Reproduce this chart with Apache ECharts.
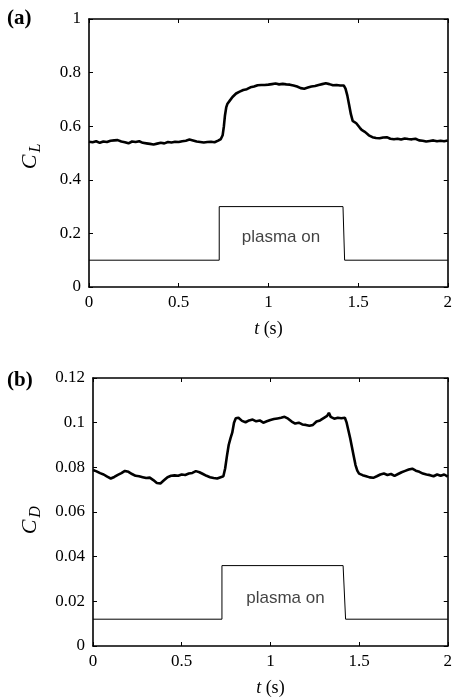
<!DOCTYPE html>
<html>
<head>
<meta charset="utf-8">
<script src="https://cdn.jsdelivr.net/npm/echarts@6/dist/echarts.min.js"></script>
<style>
html,body{margin:0;padding:0;background:#fff;}
#chart{width:455px;height:699px;}
</style>
</head>
<body>
<div id="chart"></div>
<script>
// ---- Data ----
var xTicks = [0, 0.5, 1, 1.5, 2];
var clTicks = [0, 0.2, 0.4, 0.6, 0.8, 1];
var cdTicks = [0, 0.02, 0.04, 0.06, 0.08, 0.1, 0.12];

var clTime = [0.00,0.02,0.04,0.06,0.08,0.10,0.12,0.14,0.16,0.18,0.20,0.22,0.24,0.26,0.28,0.30,0.32,0.34,0.36,0.38,0.40,0.42,0.44,0.46,0.48,0.50,0.52,0.54,0.56,0.58,0.60,0.62,0.64,0.66,0.68,0.70,0.72,0.735,0.745,0.752,0.758,0.765,0.772,0.78,0.79,0.80,0.82,0.84,0.86,0.88,0.90,0.92,0.94,0.96,0.98,1.00,1.02,1.04,1.06,1.08,1.10,1.12,1.14,1.16,1.18,1.20,1.22,1.24,1.26,1.28,1.30,1.32,1.34,1.36,1.38,1.40,1.42,1.43,1.44,1.45,1.46,1.47,1.48,1.49,1.50,1.51,1.52,1.54,1.56,1.58,1.60,1.62,1.64,1.66,1.68,1.70,1.72,1.74,1.76,1.78,1.80,1.82,1.84,1.86,1.88,1.90,1.92,1.94,1.96,1.98,2.00];
var clValue = [0.542,0.540,0.544,0.538,0.543,0.541,0.546,0.547,0.548,0.543,0.540,0.536,0.543,0.541,0.544,0.538,0.536,0.534,0.532,0.535,0.538,0.536,0.541,0.539,0.542,0.541,0.544,0.546,0.550,0.547,0.543,0.541,0.539,0.541,0.542,0.540,0.546,0.552,0.566,0.600,0.640,0.670,0.684,0.690,0.700,0.709,0.722,0.729,0.735,0.738,0.745,0.748,0.753,0.754,0.754,0.755,0.757,0.759,0.756,0.758,0.756,0.755,0.752,0.748,0.742,0.740,0.744,0.748,0.750,0.754,0.757,0.760,0.757,0.753,0.754,0.752,0.752,0.740,0.715,0.680,0.645,0.620,0.615,0.611,0.605,0.594,0.586,0.578,0.566,0.559,0.556,0.555,0.558,0.559,0.553,0.551,0.553,0.550,0.554,0.552,0.551,0.553,0.547,0.546,0.543,0.545,0.547,0.544,0.546,0.544,0.547];

var cdTime = [0.00,0.02,0.04,0.06,0.08,0.10,0.12,0.14,0.16,0.18,0.20,0.22,0.24,0.26,0.28,0.30,0.32,0.34,0.36,0.38,0.40,0.42,0.44,0.46,0.48,0.50,0.52,0.54,0.56,0.58,0.60,0.62,0.64,0.66,0.68,0.70,0.72,0.735,0.745,0.755,0.765,0.775,0.785,0.795,0.805,0.82,0.84,0.86,0.88,0.90,0.92,0.94,0.96,0.98,1.00,1.02,1.04,1.06,1.08,1.10,1.12,1.14,1.16,1.18,1.20,1.22,1.24,1.26,1.28,1.30,1.32,1.33,1.34,1.36,1.38,1.40,1.42,1.43,1.44,1.45,1.46,1.47,1.48,1.49,1.50,1.52,1.54,1.56,1.58,1.60,1.62,1.64,1.66,1.68,1.70,1.72,1.74,1.76,1.78,1.80,1.82,1.84,1.86,1.88,1.90,1.92,1.94,1.96,1.98,2.00];
var cdValue = [0.0788,0.0782,0.0774,0.0768,0.0758,0.0750,0.0757,0.0766,0.0774,0.0784,0.0780,0.0770,0.0762,0.0760,0.0756,0.0752,0.0754,0.0743,0.0730,0.0728,0.0742,0.0756,0.0762,0.0764,0.0762,0.0768,0.0766,0.0772,0.0775,0.0783,0.0778,0.0770,0.0762,0.0756,0.0752,0.0750,0.0756,0.0760,0.0795,0.0850,0.0900,0.0930,0.0955,0.1000,0.1020,0.1022,0.1008,0.1002,0.1010,0.1014,0.1006,0.1010,0.1000,0.1006,0.1012,0.1016,0.1019,0.1022,0.1026,0.1018,0.1005,0.0996,0.1000,0.0992,0.0990,0.0986,0.0990,0.1005,0.1010,0.1020,0.1030,0.1044,0.1026,0.1018,0.1022,0.1020,0.1022,0.1000,0.0965,0.0930,0.0890,0.0850,0.0810,0.0785,0.0772,0.0765,0.0760,0.0755,0.0753,0.0760,0.0768,0.0772,0.0766,0.0770,0.0762,0.0770,0.0778,0.0784,0.0790,0.0794,0.0785,0.0780,0.0772,0.0768,0.0765,0.0760,0.0768,0.0762,0.0768,0.0758];

var clPulseTime = [0, 0.726, 0.726, 1.416, 1.425, 2];
var clPulseValue = [0.1, 0.1, 0.3, 0.3, 0.1, 0.1];
var cdPulseTime = [0, 0.727, 0.727, 1.41, 1.424, 2];
var cdPulseValue = [0.012, 0.012, 0.036, 0.036, 0.012, 0.012];

var plasmaLabel = 'plasma on';
var clLabelPos = [1.07, 0.185];
var cdLabelPos = [1.085, 0.0215];

function zip(a, b) { return a.map(function (v, i) { return [v, b[i]]; }); }

var SERIF = '"Liberation Serif","Times New Roman",serif';
var SANS = '"Liberation Sans",Arial,sans-serif';

function xAx(gi, showLabel) {
  return {
    type: 'value', gridIndex: gi, min: 0, max: 2, interval: 0.5,
    position: showLabel ? 'bottom' : 'top',
    axisLine: { show: true, onZero: false, lineStyle: { color: '#000', width: 1.6 } },
    axisTick: { show: true, inside: true, length: 4, lineStyle: { color: '#000', width: 1 } },
    axisLabel: { show: showLabel, color: '#000', fontFamily: SERIF, fontSize: 17, margin: 7 },
    splitLine: { show: false },
    name: showLabel ? '{i|t} (s)' : '',
    nameLocation: 'middle', nameGap: 33,
    nameTextStyle: { color: '#000', fontFamily: SERIF, fontSize: 18,
      rich: { i: { fontStyle: 'italic', fontFamily: SERIF, fontSize: 18, color: '#000' } } }
  };
}
function yAx(gi, showLabel, max, interval) {
  return {
    type: 'value', gridIndex: gi, min: 0, max: max, interval: interval,
    position: showLabel ? 'left' : 'right',
    axisLine: { show: true, onZero: false, lineStyle: { color: '#000', width: 1.6 } },
    axisTick: { show: true, inside: true, length: 4, lineStyle: { color: '#000', width: 1 } },
    axisLabel: { show: showLabel, color: '#000', fontFamily: SERIF, fontSize: 17, margin: 8,
      formatter: function (v) { return String(Math.round(v * 1000) / 1000); } },
    splitLine: { show: false }
  };
}

var chart = echarts.init(document.getElementById('chart'), null, { renderer: 'canvas' });
chart.setOption({
  backgroundColor: '#fff',
  animation: false,
  grid: [
    { left: 89, right: 7, top: 19, height: 268 },
    { left: 93, right: 3.5, top: 378, height: 268 }
  ],
  xAxis: [xAx(0, true), xAx(0, false), xAx(1, true), xAx(1, false)],
  yAxis: [yAx(0, true, 1, 0.2), yAx(0, false, 1, 0.2), yAx(1, true, 0.12, 0.02), yAx(1, false, 0.12, 0.02)],
  series: [
    { type: 'line', xAxisIndex: 0, yAxisIndex: 0, data: zip(clTime, clValue), showSymbol: false,
      lineStyle: { color: '#000', width: 2.6 } },
    { type: 'line', xAxisIndex: 0, yAxisIndex: 0, data: zip(clPulseTime, clPulseValue), showSymbol: false,
      lineStyle: { color: '#000', width: 1 } },
    { type: 'scatter', xAxisIndex: 0, yAxisIndex: 0, data: [clLabelPos], symbolSize: 1,
      itemStyle: { color: 'rgba(0,0,0,0)' },
      label: { show: true, position: 'inside', formatter: plasmaLabel, color: '#111', fontFamily: SANS, fontSize: 17 } },
    { type: 'line', xAxisIndex: 2, yAxisIndex: 2, data: zip(cdTime, cdValue), showSymbol: false,
      lineStyle: { color: '#000', width: 2.6 } },
    { type: 'line', xAxisIndex: 2, yAxisIndex: 2, data: zip(cdPulseTime, cdPulseValue), showSymbol: false,
      lineStyle: { color: '#000', width: 1 } },
    { type: 'scatter', xAxisIndex: 2, yAxisIndex: 2, data: [cdLabelPos], symbolSize: 1,
      itemStyle: { color: 'rgba(0,0,0,0)' },
      label: { show: true, position: 'inside', formatter: plasmaLabel, color: '#111', fontFamily: SANS, fontSize: 17 } }
  ],
  graphic: [
    { type: 'text', left: 7, top: 8, style: { text: '(a)', font: 'bold 21px ' + SERIF, fill: '#000' } },
    { type: 'text', left: 7, top: 370, style: { text: '(b)', font: 'bold 21px ' + SERIF, fill: '#000' } },
    { type: 'group', x: 30, y: 162, rotation: Math.PI / 2, children: [
      { type: 'text', x: 0, y: 0, style: { text: 'C', font: 'italic 22px ' + SERIF, fill: '#000', textAlign: 'center', textVerticalAlign: 'middle' } },
      { type: 'text', x: 14, y: 6, style: { text: 'L', font: 'italic 16px ' + SERIF, fill: '#000', textAlign: 'center', textVerticalAlign: 'middle' } }
    ] },
    { type: 'group', x: 30, y: 527, rotation: Math.PI / 2, children: [
      { type: 'text', x: 0, y: 0, style: { text: 'C', font: 'italic 22px ' + SERIF, fill: '#000', textAlign: 'center', textVerticalAlign: 'middle' } },
      { type: 'text', x: 15, y: 6, style: { text: 'D', font: 'italic 16px ' + SERIF, fill: '#000', textAlign: 'center', textVerticalAlign: 'middle' } }
    ] }
  ]
});
</script>
</body>
</html>
